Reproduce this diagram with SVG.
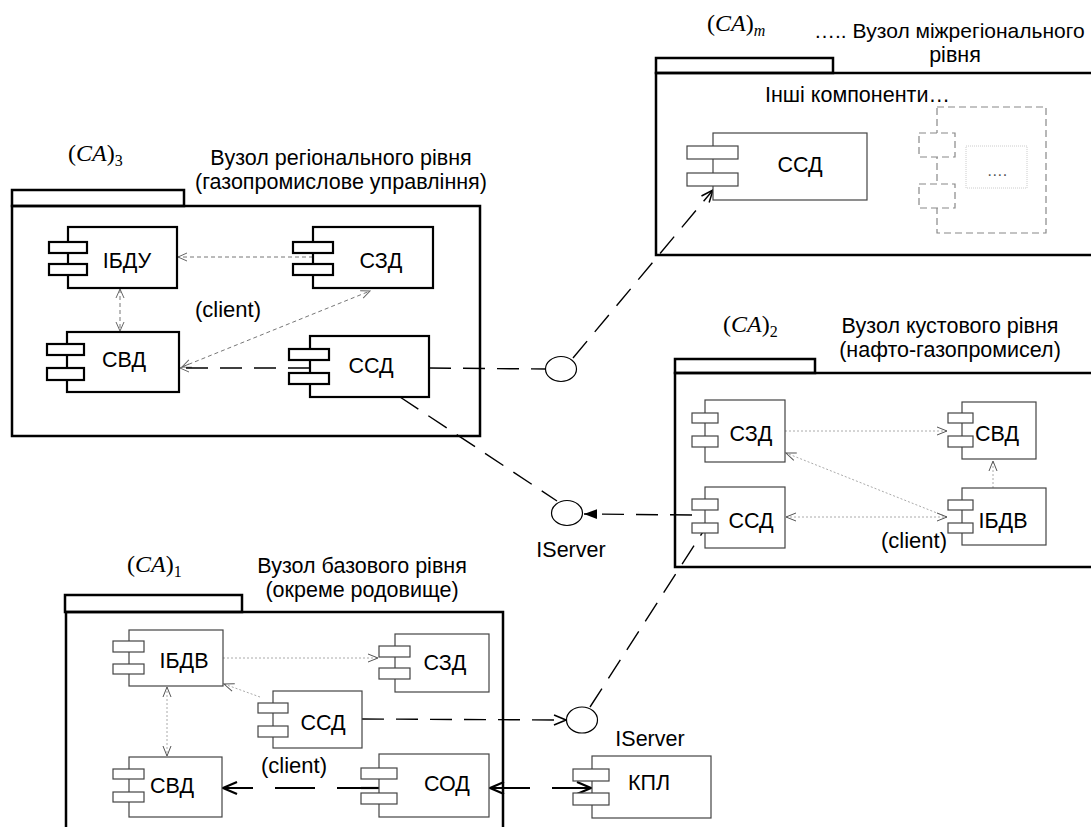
<svg xmlns="http://www.w3.org/2000/svg" width="1091" height="827" viewBox="0 0 1091 827">
<defs>
<style>
text{font-family:"Liberation Sans",Arial,sans-serif;fill:#000}
.lbl{font-size:21.5px;text-anchor:middle}
.nm{font-size:21.5px;text-anchor:middle}
.cl{font-size:22px;text-anchor:middle}
.ca{font-family:"Liberation Serif","Times New Roman",serif;font-size:24px}
.ca .it{font-style:italic}
.sub{font-size:16px}
.pkg{fill:none;stroke:#000;stroke-width:2.5}
.ct rect{fill:#fff;stroke:#000;stroke-width:2.2}
.cn rect{fill:#fff;stroke:#444;stroke-width:1.2}
.blk{fill:none;stroke:#000;stroke-width:1.4;stroke-dasharray:22 12}
.thk{fill:none;stroke:#000;stroke-width:2.2;stroke-dasharray:40 22}
.gr{fill:none;stroke:#777;stroke-width:1;stroke-dasharray:4 3}
.lt{fill:none;stroke:#aaa;stroke-width:1;stroke-dasharray:2 2}
</style>
<marker id="aB" markerUnits="userSpaceOnUse" markerWidth="14" markerHeight="12" refX="13" refY="6" orient="auto-start-reverse"><path d="M1,1 L13,6 L1,11" fill="none" stroke="#000" stroke-width="1.5"/></marker>
<marker id="aT" markerUnits="userSpaceOnUse" markerWidth="16" markerHeight="14" refX="15" refY="7" orient="auto-start-reverse"><path d="M1,1 L15,7 L1,13" fill="none" stroke="#000" stroke-width="2.2"/></marker>
<marker id="aG" markerUnits="userSpaceOnUse" markerWidth="11" markerHeight="10" refX="10" refY="5" orient="auto-start-reverse"><path d="M1,1 L10,5 L1,9" fill="none" stroke="#666" stroke-width="1"/></marker>
<marker id="aL" markerUnits="userSpaceOnUse" markerWidth="12" markerHeight="10" refX="11" refY="5" orient="auto-start-reverse"><path d="M1,1 L11,5 L1,9" fill="none" stroke="#555" stroke-width="1"/></marker>
<marker id="aF" markerUnits="userSpaceOnUse" markerWidth="14" markerHeight="12" refX="13" refY="6" orient="auto"><path d="M0,1 L13,6 L0,11 Z" fill="#000"/></marker>
</defs>
<rect width="1091" height="827" fill="#fff"/>

<!-- Packages -->
<g id="pkg-m">
<rect class="pkg" x="656" y="58" width="177" height="15"/>
<rect class="pkg" x="656" y="73" width="500" height="182"/>
<text class="ca" x="707" y="31">(<tspan class="it">CA</tspan>)<tspan class="sub it" dy="5">m</tspan></text>
<text x="814" y="38" style="font-size:21px">….. Вузол міжрегіонального</text>
<text class="lbl" x="955" y="62">рівня</text>
<text x="765" y="102" style="font-size:21.5px">Інші компоненти…</text>
</g>
<g id="pkg-3">
<rect class="pkg" x="12" y="190" width="172" height="16"/>
<rect class="pkg" x="12" y="206" width="468" height="230"/>
<text class="ca" x="68" y="161">(<tspan class="it">CA</tspan>)<tspan class="sub" dy="5">3</tspan></text>
<text class="lbl" x="341" y="165">Вузол регіонального рівня</text>
<text class="lbl" x="341" y="189">(газопромислове управління)</text>
<text class="cl" x="228" y="317">(client)</text>
</g>
<g id="pkg-2">
<rect class="pkg" x="675" y="359" width="140" height="14"/>
<rect class="pkg" x="675" y="373" width="500" height="194"/>
<text class="ca" x="723" y="332">(<tspan class="it">CA</tspan>)<tspan class="sub" dy="5">2</tspan></text>
<text class="lbl" x="950" y="333">Вузол кустового рівня</text>
<text class="lbl" x="950" y="357">(нафто-газопромисел)</text>
<text class="cl" x="914" y="548">(client)</text>
</g>
<g id="pkg-1">
<rect class="pkg" x="65" y="595" width="177" height="17"/>
<rect class="pkg" x="66" y="612" width="437" height="260"/>
<text class="ca" x="127" y="572">(<tspan class="it">CA</tspan>)<tspan class="sub" dy="5">1</tspan></text>
<text class="lbl" x="362" y="573">Вузол базового рівня</text>
<text class="lbl" x="362" y="597">(окреме родовище)</text>
<text class="cl" x="294" y="773">(client)</text>
</g>

<!-- Connectors -->
<g id="connectors">
<line class="gr" x1="313" y1="257" x2="178" y2="257" marker-end="url(#aG)"/>
<line class="gr" x1="120" y1="289" x2="120" y2="331" marker-start="url(#aG)" marker-end="url(#aG)"/>
<line class="gr" x1="182" y1="367" x2="370" y2="291" stroke-dasharray="2 2" marker-start="url(#aG)" marker-end="url(#aG)"/>
<line class="blk" x1="310" y1="368" x2="180" y2="368" marker-end="url(#aG)"/>
<line class="blk" x1="429" y1="368" x2="546" y2="369"/>
<line class="blk" x1="573" y1="358" x2="713" y2="190" marker-end="url(#aB)"/>
<line class="blk" x1="400" y1="397" x2="557" y2="501"/>
<line class="blk" x1="692" y1="515" x2="584" y2="514" marker-end="url(#aF)"/>
<line class="blk" x1="362" y1="719" x2="566" y2="720" marker-end="url(#aB)"/>
<line class="blk" x1="590" y1="707" x2="706" y2="527"/>
<line class="thk" x1="377" y1="788" x2="223" y2="788" marker-end="url(#aT)"/>
<line class="thk" x1="490" y1="788" x2="591" y2="788" marker-start="url(#aT)" marker-end="url(#aT)"/>
<line class="lt" x1="785" y1="431" x2="947" y2="431" marker-end="url(#aL)"/>
<line class="lt" x1="947" y1="517" x2="786" y2="453" marker-end="url(#aL)"/>
<line class="lt" x1="786" y1="517" x2="947" y2="517" marker-start="url(#aL)" marker-end="url(#aL)"/>
<line class="lt" x1="993" y1="488" x2="993" y2="461" marker-end="url(#aL)"/>
<line class="lt" x1="223" y1="658" x2="378" y2="658" marker-end="url(#aL)"/>
<line class="lt" x1="260" y1="697" x2="224" y2="684" marker-end="url(#aL)"/>
<line class="lt" x1="167" y1="687" x2="167" y2="756" marker-start="url(#aL)" marker-end="url(#aL)"/>
<line x1="361" y1="788" x2="379" y2="788" stroke="#000" stroke-width="2.2"/>
</g>

<!-- Interface circles -->
<g id="iface-1"><ellipse cx="561" cy="369" rx="15.5" ry="12.5" fill="#fff" stroke="#000" stroke-width="1.2"/></g>
<g id="iface-2"><ellipse cx="567" cy="513" rx="15.5" ry="12.5" fill="#fff" stroke="#000" stroke-width="1.2"/>
<text class="lbl" x="571" y="557">IServer</text></g>
<g id="iface-3"><ellipse cx="582" cy="720" rx="15.5" ry="13" fill="#fff" stroke="#000" stroke-width="1.2"/>
<text class="lbl" x="650" y="746">IServer</text></g>

<!-- CA3 components -->
<g id="c3-ibdu" class="ct"><rect x="68" y="227" width="109" height="61"/><rect x="49" y="242" width="38" height="11"/><rect x="49" y="264" width="38" height="11"/><text class="nm" x="127" y="268">ІБДУ</text></g>
<g id="c3-szd" class="ct"><rect x="313" y="227" width="120" height="61"/><rect x="293" y="242" width="40" height="11"/><rect x="293" y="264" width="40" height="11"/><text class="nm" x="381" y="268">СЗД</text></g>
<g id="c3-svd" class="ct"><rect x="67" y="332" width="112" height="60"/><rect x="47" y="344" width="37" height="11"/><rect x="47" y="368" width="37" height="12"/><text class="nm" x="124" y="367">СВД</text></g>
<g id="c3-ssd" class="ct"><rect x="310" y="336" width="119" height="61"/><rect x="289" y="349" width="40" height="11"/><rect x="289" y="373" width="40" height="11"/><text class="nm" x="371" y="373">ССД</text></g>

<!-- CAm components -->
<g id="cm-ssd" class="cn"><rect x="713" y="133" width="154" height="67"/><rect x="687" y="146" width="51" height="13"/><rect x="687" y="173" width="51" height="13"/><text class="nm" x="800" y="172">ССД</text></g>
<g id="cm-other">
<rect x="937" y="107" width="109" height="126" fill="none" stroke="#888" stroke-width="1.2" stroke-dasharray="7 4"/>
<rect x="919" y="133" width="36" height="24" fill="#fff" stroke="#888" stroke-width="1.2" stroke-dasharray="7 4"/>
<rect x="919" y="184" width="36" height="24" fill="#fff" stroke="#888" stroke-width="1.2" stroke-dasharray="7 4"/>
<rect x="966" y="146" width="61" height="42" fill="none" stroke="#ccc" stroke-width="1" stroke-dasharray="1 1"/>
<text x="997" y="176" style="font-size:16px;text-anchor:middle;fill:#555">….</text>
</g>

<!-- CA2 components -->
<g id="c2-szd" class="cn"><rect x="705" y="400" width="80" height="62"/><rect x="692" y="413" width="26" height="10"/><rect x="692" y="436" width="26" height="11"/><text class="nm" x="751" y="441">СЗД</text></g>
<g id="c2-ssd" class="cn"><rect x="705" y="487" width="80" height="61"/><rect x="692" y="499" width="26" height="11"/><rect x="692" y="523" width="26" height="10"/><text class="nm" x="751" y="528">ССД</text></g>
<g id="c2-svd" class="cn"><rect x="962" y="402" width="74" height="57"/><rect x="948" y="413" width="25" height="10"/><rect x="948" y="436" width="25" height="11"/><text class="nm" x="997" y="441">СВД</text></g>
<g id="c2-ibdv" class="cn"><rect x="962" y="488" width="84" height="57"/><rect x="948" y="500" width="25" height="10"/><rect x="948" y="523" width="25" height="10"/><text class="nm" x="1003" y="528">ІБДВ</text></g>

<!-- CA1 components -->
<g id="c1-ibdv" class="cn"><rect x="129" y="630" width="94" height="56"/><rect x="113" y="641" width="31" height="11"/><rect x="113" y="664" width="31" height="10"/><text class="nm" x="184" y="668">ІБДВ</text></g>
<g id="c1-szd" class="cn"><rect x="395" y="634" width="94" height="58"/><rect x="379" y="646" width="31" height="11"/><rect x="379" y="668" width="31" height="11"/><text class="nm" x="445" y="670">СЗД</text></g>
<g id="c1-ssd" class="cn"><rect x="273" y="691" width="89" height="57"/><rect x="258" y="703" width="30" height="10"/><rect x="258" y="726" width="30" height="11"/><text class="nm" x="323" y="730">ССД</text></g>
<g id="c1-svd" class="cn"><rect x="129" y="757" width="93" height="60"/><rect x="113" y="769" width="31" height="10"/><rect x="113" y="792" width="31" height="10"/><text class="nm" x="172" y="793">СВД</text></g>
<g id="c1-sod" class="cn"><rect x="379" y="754" width="110" height="63"/><rect x="361" y="768" width="36" height="11"/><rect x="361" y="793" width="36" height="11"/><text class="nm" x="447" y="791">СОД</text></g>
<g id="kpl" class="cn"><rect x="592" y="756" width="119" height="62"/><rect x="573" y="769" width="36" height="12"/><rect x="573" y="793" width="36" height="12"/><text class="nm" x="649" y="790">КПЛ</text></g>
</svg>
